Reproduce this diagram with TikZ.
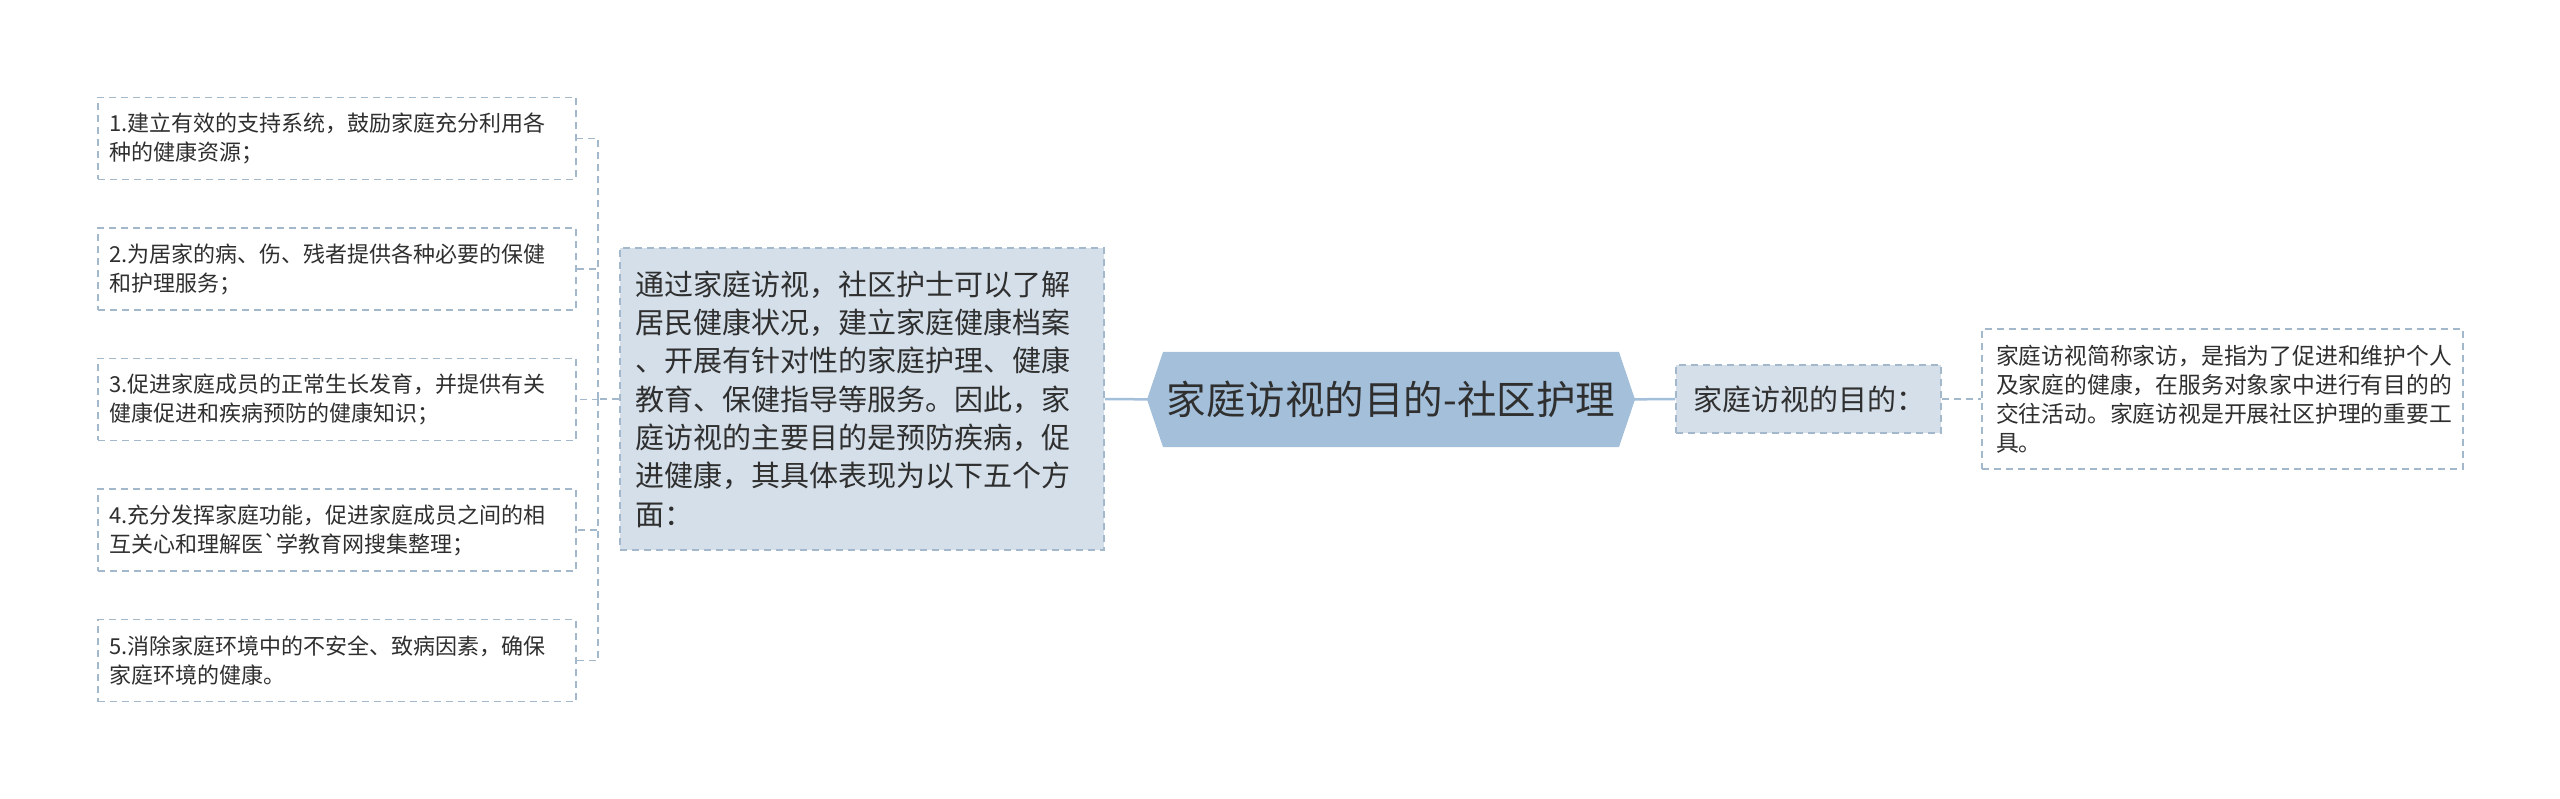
\documentclass[tikz,border=0pt]{standalone}
\usepackage{fontspec}
\setmainfont{Noto Sans CJK SC}
\usepackage{xcolor}
\usetikzlibrary{positioning,backgrounds}
\definecolor{rootblue}{HTML}{A3BFD9}
\definecolor{boxfill}{HTML}{D4DFE9}
\definecolor{boxline}{HTML}{A3B8CA}
\definecolor{inktext}{HTML}{2F2F2F}

\begin{document}
\begin{tikzpicture}[x=1pt, y=-1pt,
    leafbox/.style={draw=boxline, line width=1.5pt, dash pattern=on 7pt off 5pt,
      fill=white, text=inktext, align=left, inner xsep=11pt, text width=456pt,
      minimum height=82pt, font=\fontsize{22}{29}\selectfont},
    midbox/.style={draw=boxline, line width=1.5pt, dash pattern=on 7pt off 5pt,
      fill=boxfill, text=inktext, align=left, inner xsep=15pt, text width=454pt,
      minimum height=302pt, font=\fontsize{29}{38.3}\selectfont},
    subbox/.style={draw=boxline, line width=1.5pt, dash pattern=on 7pt off 5pt,
      fill=boxfill, text=inktext, align=left, inner xsep=17pt, text width=231pt,
      minimum height=68pt, font=\fontsize{29}{36}\selectfont},
    infobox/.style={draw=boxline, line width=1.5pt, dash pattern=on 7pt off 5pt,
      fill=white, text=inktext, align=left, inner xsep=14pt, text width=453pt,
      minimum height=140pt, font=\fontsize{22.8}{29}\selectfont},
    rootbox/.style={inner sep=0pt, outer sep=0pt, text=inktext,
      minimum width=456pt, minimum height=95pt, font=\fontsize{39.5}{44}\selectfont},
    solidlink/.style={draw=rootblue, line width=2.5pt},
    dashlink/.style={draw=boxline, line width=1.5pt, dash pattern=on 7pt off 5pt}]
        \useasboundingbox (0,0) rectangle (2560,799);

        % Draw the central topic
        \node[rootbox] (root) at (1391,399.5) {家庭访视的目的-社区护理};

        % Draw the left branch
        \node[midbox] (mid) at (862,399) {通过家庭访视，社区护士可以了解\\居民健康状况，建立家庭健康档案\\、开展有针对性的家庭护理、健康\\教育、保健指导等服务。因此，家\\庭访视的主要目的是预防疾病，促\\进健康，其具体表现为以下五个方\\面：};
        \node[leafbox] (t1) at (337,138.5) {1.建立有效的支持系统，鼓励家庭充分利用各\\种的健康资源；};
        \node[leafbox] (t2) at (337,269) {2.为居家的病、伤、残者提供各种必要的保健\\和护理服务；};
        \node[leafbox] (t3) at (337,399.5) {3.促进家庭成员的正常生长发育，并提供有关\\健康促进和疾病预防的健康知识；};
        \node[leafbox] (t4) at (337,530) {4.充分发挥家庭功能，促进家庭成员之间的相\\互关心和理解医\textasciigrave 学教育网搜集整理；};
        \node[leafbox] (t5) at (337,660.5) {5.消除家庭环境中的不安全、致病因素，确保\\家庭环境的健康。};
        \coordinate (fork) at (598,399);

        % Draw the right branch
        \node[subbox] (sub) at (1808.5,399) {家庭访视的目的：};
        \node[infobox] (info) at (2222.5,399) {家庭访视简称家访，是指为了促进和维护个人\\及家庭的健康，在服务对象家中进行有目的的\\交往活动。家庭访视是开展社区护理的重要工\\具。};

        % Draw the hexagon behind the central topic
        \begin{scope}[on background layer]
          \draw[solidlink] (mid.east) -- (root.west);
          \draw[solidlink] (root.east) -- (sub.west);
          \fill[rootblue] ([xshift=-16pt]root.west) -- (root.north west) -- (root.north east)
            -- ([xshift=16pt]root.east) -- (root.south east) -- (root.south west) -- cycle;
        \end{scope}

        % Draw edges
        \draw[dashlink] (mid.west) -- (fork);
        \draw[dashlink] (fork) |- (t1.east);
        \draw[dashlink] (fork) |- (t2.east);
        \draw[dashlink] (fork) |- (t3.east);
        \draw[dashlink] (fork) |- (t4.east);
        \draw[dashlink] (fork) |- (t5.east);
        \draw[dashlink] (sub.east) -- (info.west);
      \end{tikzpicture}
\end{document}
